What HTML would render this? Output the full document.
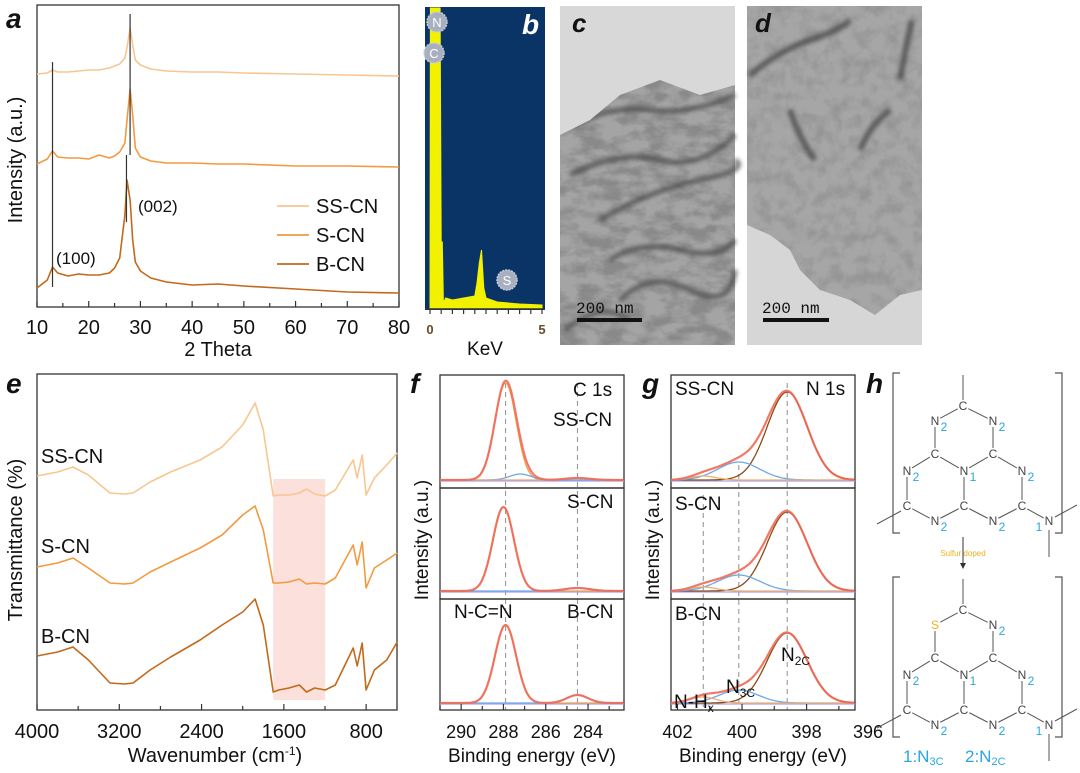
<!DOCTYPE html>
<html><head><meta charset="utf-8"><style>
html,body{margin:0;padding:0;background:#fff;}
svg{display:block;font-family:"Liberation Sans",sans-serif;}
.pl{font-family:"Liberation Sans",sans-serif;font-style:italic;font-weight:bold;font-size:28px;fill:#111;}
</style></head><body>
<svg id="fig" width="1080" height="773" viewBox="0 0 1080 773" xmlns="http://www.w3.org/2000/svg">
<defs>
<filter id="tex1" x="0" y="0" width="100%" height="100%"><feTurbulence type="fractalNoise" baseFrequency="0.045 0.08" numOctaves="4" seed="3"/><feColorMatrix type="matrix" values="0 0 0 0 0.25  0 0 0 0 0.25  0 0 0 0 0.25  0 0 0 -3 1.9"/></filter>
<filter id="tex2" x="0" y="0" width="100%" height="100%"><feTurbulence type="fractalNoise" baseFrequency="0.07" numOctaves="4" seed="8"/><feColorMatrix type="matrix" values="0 0 0 0 0.3  0 0 0 0 0.3  0 0 0 0 0.3  0 0 0 -2.6 1.55"/></filter>
<filter id="blur2"><feGaussianBlur stdDeviation="2"/></filter>
</defs>
<rect width="1080" height="773" fill="#fff"/>
<text class="pl" x="6" y="28">a</text>
<text class="pl" x="6" y="393">e</text>
<text class="pl" x="410" y="393">f</text>
<text class="pl" x="642" y="393">g</text>
<text class="pl" x="866" y="393">h</text>

<g>
<rect x="560" y="6" width="175" height="339" fill="#a4a4a4"/>
<rect x="560" y="6" width="175" height="339" filter="url(#tex1)"/>
<g filter="url(#blur2)" fill="none" stroke="#4a4a4a" stroke-width="5" opacity="0.75">
<path d="M575 125 Q610 105 650 110 T735 95"/>
<path d="M570 175 Q620 150 660 160 T735 135"/>
<path d="M600 220 Q650 190 700 180 T735 160"/>
<path d="M610 260 Q640 240 680 250 T735 240"/>
<path d="M620 300 Q650 270 690 290 T735 270"/>
<path d="M565 330 Q600 300 630 320"/>
</g>
<polygon points="560,6 735,6 735,85 700,95 660,80 620,95 590,120 560,135" fill="#d8d8d8"/>
<rect x="577" y="318" width="65" height="4" fill="#111"/>
<text x="576" y="313" font-family="Liberation Mono" font-size="16" fill="#111">200 nm</text>
<text class="pl" x="572" y="32" style="font-size:26px">c</text>
</g>
<g>
<rect x="747" y="6" width="175" height="339" fill="#a6a6a6"/>
<rect x="747" y="6" width="175" height="339" filter="url(#tex2)"/>
<g filter="url(#blur2)" fill="none" stroke="#3e3e3e" stroke-width="6" opacity="0.7">
<path d="M750 75 Q780 50 810 40 T850 20"/>
<path d="M912 20 Q905 50 900 80"/>
<path d="M790 110 Q800 140 815 160"/>
<path d="M860 150 Q870 125 890 110"/>
</g>
<polygon points="747,225 770,235 790,250 800,270 820,290 850,300 875,315 900,295 922,290 922,345 747,345" fill="#d6d6d6"/>
<rect x="763" y="318" width="66" height="4" fill="#111"/>
<text x="762" y="313" font-family="Liberation Mono" font-size="16" fill="#111">200 nm</text>
<text class="pl" x="755" y="32" style="font-size:26px">d</text>
</g>
</svg>
<script>
const NS='http://www.w3.org/2000/svg';
const svg=document.getElementById('fig');
function mk(tag,attrs,parent){const e=document.createElementNS(NS,tag);for(const k in attrs)e.setAttribute(k,attrs[k]);(parent||svg).appendChild(e);return e;}
function lin(d0,d1,r0,r1){return v=>r0+(v-d0)*(r1-r0)/(d1-d0);}
function txt(x,y,s,size,anchor,fill,parent){const t=mk('text',{x:x,y:y,'font-size':size,'text-anchor':anchor||'start',fill:fill||'#111'},parent);t.textContent=s;return t;}

/* ---------- DATA ---------- */
const xrdTheta=[10,12,13,14,16,18,20,22,24,25,26,27,27.5,28,28.5,29,30,32,35,40,45,50,60,70,80];
const xrdThetaB=[10,12,13,14,16,18,20,22,24,25,26,27,27.4,28,28.5,29,30,32,35,40,45,50,60,70,80];
const xrdSS=[233,234,237,235,235,236,237,237,239,241,243,249,262,279,262,247,242,238,236,235,235,234,233,232,231];
const xrdS=[143,148,156,150,149,149,148,152,149,151,155,164,192,218,192,159,150,146,144,144,143,143,141,141,140];
const xrdB=[19,27,40,34,31,33,32,32,34,39,49,92,127,107,67,45,36,29,25,22,23,21,18,15,14];
const xrdTicks=[10,20,30,40,50,60,70,80];
const xrdLegend=['SS-CN','S-CN','B-CN'];
const edxKeV=[0,0.02,0.1,0.2,0.3,0.4,0.45,0.5,0.55,0.6,0.7,1,1.5,2,2.1,2.2,2.3,2.4,2.5,3,4,5];
const edxCounts=[0,300,300,300,300,300,300,66,66,5,10,8,10,12,25,45,58,20,10,6,4,3];
const edxTicks=[0,5];
const irWave=[4000,3800,3650,3500,3290,3150,3066,2900,2700,2414,2200,2000,1880,1800,1704,1650,1550,1450,1380,1300,1198,1100,926,887,838,800,720,600,498];
const irSS=[244,248,253,245,227,226,227,238,248,260,273,295,317,290,224,225,225,227,231,226,224,230,260,242,265,225,242,255,267];
const irS=[153,157,162,152,137,136,137,148,158,172,185,205,214,190,137,137,138,141,136,137,136,142,175,155,178,132,152,160,167];
const irB=[64,68,73,60,37,36,37,50,63,80,95,108,121,95,28,30,32,35,28,32,30,35,72,54,77,30,50,60,78];
const irTicks=[4000,3200,2400,1600,800];
const irBand=[1704,1198];
const c1sSS=[[287.9,97,0.5],[287.2,6,0.5],[284.5,2,0.6]];
const c1sS=[[288.0,84,0.5],[284.5,3,0.6]];
const c1sB=[[287.9,78,0.5],[284.5,8,0.5]];
const c1sTicks=[290,288,286,284];
const n1sSS=[[398.6,88,0.62],[400.1,18,0.65],[401.2,4,0.4]];
const n1sS=[[398.6,79,0.62],[400.1,16,0.65],[401.2,4,0.4]];
const n1sB=[[398.6,70,0.62],[400.1,13,0.6],[401.2,6,0.4]];
const n1sTicks=[402,400,398,396];

const colSS='#f8c690', colS='#f39a40', colB='#c3691a';

function pathFrom(xs,ys,fx,fy){return xs.map((x,i)=>(i?'L':'M')+fx(x).toFixed(1)+','+fy(ys[i]).toFixed(1)).join(' ');}
function frame(x0,y0,x1,y1,name){const r=mk('rect',{x:x0,y:y0,width:x1-x0,height:y1-y0,fill:'none',stroke:'#333','stroke-width':1.3});

return r;}
function xticks(vals,minorStep,fx,yb,labY,size,name,lo,hi,labelX){
  const g=mk('g',{});
  
  
  for(let v=lo;v<=hi+1e-9;v+=minorStep){const major=vals.some(m=>Math.abs(m-v)<1e-6);mk('line',{x1:fx(v),x2:fx(v),y1:yb,y2:yb-(major?6:4),stroke:'#333','stroke-width':1.2},g);}
  vals.forEach(v=>{const t=txt(labelX?labelX(v):fx(v),labY,String(v),size,'middle','#111',g);
  
  });
}
function gauss(x,p){return p[1]*Math.exp(-0.5*Math.pow((x-p[0])/p[2],2));}

/* panel a */
const xa=lin(10,80,37,399), ya=lin(0,300,307,7);
frame(37,5,399,307,'xrd-plot-frame');
[[xrdTheta,xrdSS,colSS,'xrd-line-ss-cn'],[xrdTheta,xrdS,colS,'xrd-line-s-cn'],[xrdThetaB,xrdB,colB,'xrd-line-b-cn']].forEach(s=>{
  const p=mk('path',{d:pathFrom(s[0],s[1],xa,ya),fill:'none',stroke:s[2],'stroke-width':1.6,'stroke-linejoin':'round'});
  
  
});
[[13,62,287],[28,14,155],[27.3,155,222]].forEach(r=>{const l=mk('line',{x1:xa(r[0]),x2:xa(r[0]),y1:r[1],y2:r[2],stroke:'#333','stroke-width':1.2});

});
xticks(xrdTicks,5,xa,307,334,20,'xrd-x-ticks',10,80);
let t=txt(218,356,'2 Theta',20,'middle');


t=txt(0,0,'Intensity (a.u.)',20,'middle');t.setAttribute('transform','translate(22,160) rotate(-90)');


t=txt(138,212,'(002)',17,'start');


t=txt(56,264,'(100)',17,'start');


[colSS,colS,colB].forEach((c,i)=>{const y=206+i*29;
  const g=mk('g',{});
  
  
  mk('line',{x1:277,x2:309,y1:y,y2:y,stroke:c,'stroke-width':1.8},g);
  txt(316,y+7,xrdLegend[i],20,'start','#111',g);});

/* panel b */
const xb=lin(0,5,430,542), yb=lin(0,300,308,8);
let r=mk('rect',{x:425,y:7,width:120,height:303,fill:'#0b3466'});


let poly=mk('path',{d:pathFrom(edxKeV,edxCounts,xb,yb)+' L'+xb(5)+','+yb(0)+' L'+xb(0)+','+yb(0)+' Z',fill:'#f2f200',stroke:'#f2f200','stroke-width':1});


let ax=mk('line',{x1:425,x2:545,y1:309,y2:309,stroke:'#333','stroke-width':1.5});


for(let v=0;v<=5.001;v+=0.5){const l=mk('line',{x1:xb(v),x2:xb(v),y1:309,y2:314,stroke:'#333','stroke-width':1.2});

}
edxTicks.forEach(v=>{const tt=txt(xb(v),334,String(v),13,'middle','#6b4a2a');tt.setAttribute('font-weight','bold');

});
t=txt(485,355,'KeV',19,'middle');


[['N',437,22],['C',434,53],['S',507,280]].forEach(m=>{const g=mk('g',{});
  
  
  mk('circle',{cx:m[1],cy:m[2],r:10,fill:'#a8b0c0',stroke:'#c8ccd8','stroke-width':1.5,'stroke-dasharray':'2 1'},g);
  txt(m[1],m[2]+5,m[0],13,'middle','#fff',g);});
t=txt(522,34,'b',28,'start','#fff');t.setAttribute('font-style','italic');t.setAttribute('font-weight','bold');



/* panel e */
const xe=lin(4000,500,37,397), ye=lin(0,300,720,420);
r=mk('rect',{x:xe(irBand[0]),y:479,width:xe(irBand[1])-xe(irBand[0]),height:221,fill:'#fbe0dc'});


frame(37,374,397,710,'ftir-plot-frame');
[[irSS,colSS,'ftir-line-ss-cn'],[irS,colS,'ftir-line-s-cn'],[irB,colB,'ftir-line-b-cn']].forEach(s=>{
  const p=mk('path',{d:pathFrom(irWave,s[0],xe,ye),fill:'none',stroke:s[1],'stroke-width':1.6,'stroke-linejoin':'round'});
  
  
});
xticks(irTicks,400,xe,710,738,20,'ftir-x-ticks',800,4000);
t=txt(215,762,'Wavenumber (cm',20,'middle');const sup=mk('tspan',{'baseline-shift':'super','font-size':12},t);sup.textContent='-1';const cl=mk('tspan',{},t);cl.textContent=')';


t=txt(0,0,'Transmittance (%)',20,'middle');t.setAttribute('transform','translate(22,540) rotate(-90)');


[['SS-CN',463],['S-CN',553],['B-CN',643]].forEach(l=>{const tt=txt(41,l[1],l[0],20,'start');

});

/* XPS */
function xpsPanel(fx,x0,x1,lo,hi,sets,bases,tops,colorsFor,namePrefix){
  sets.forEach((peaks,k)=>{
    const base=bases[k];
    frame(x0,tops[k],x1,tops[k+1],namePrefix+'-frame-'+k);
    const xs=[];for(let v=hi;v>=lo-1e-9;v-=0.04)xs.push(v);
    const bl=mk('line',{x1:x0,x2:x1,y1:base+1,y2:base+1,stroke:'#a9a3f0','stroke-width':1.3});
    
    
    peaks.forEach((p,j)=>{const ys=xs.map(x=>base-gauss(x,p));
      const pa=mk('path',{d:xs.map((x,i)=>(i?'L':'M')+fx(x).toFixed(1)+','+ys[i].toFixed(1)).join(' '),fill:'none',stroke:colorsFor[j],'stroke-width':1.3});
      
      });
    const tot=xs.map(x=>base-peaks.reduce((s,p)=>s+gauss(x,p),0));
    const pt=mk('path',{d:xs.map((x,i)=>(i?'L':'M')+fx(x).toFixed(1)+','+tot[i].toFixed(1)).join(' '),fill:'none',stroke:'#f06a58','stroke-width':2.2,'stroke-opacity':0.9});
    
    
  });
}
const tops=[375,488,599,710];
const xf=lin(291,282.3,440,624);
[287.9,284.5].forEach(v=>{const l=mk('line',{x1:xf(v),x2:xf(v),y1:tops[0]+8,y2:710,stroke:'#999','stroke-width':1.1,'stroke-dasharray':'5 4'});

});
xpsPanel(xf,440,624,282.3,291,[c1sSS,c1sS,c1sB],[480,591,703],tops,['#eea04c','#6aaae8','#f0a870'],'c1s');
xticks(c1sTicks,1,xf,710,738,18,'c1s-x-ticks',283,291);
t=txt(532,762,'Binding energy (eV)',19,'middle');


t=txt(0,0,'Intensity (a.u.)',19,'middle');t.setAttribute('transform','translate(428,540) rotate(-90)');


[['C 1s',573,396],['SS-CN',553,426],['S-CN',567,508],['B-CN',567,618],['N-C=N',454,618]].forEach(l=>{const tt=txt(l[1],l[2],l[0],19,'start');

});

const xg=lin(402.2,396.5,671,855);
[[398.6,383],[400.1,465],[401.2,495]].forEach(v=>{const l=mk('line',{x1:xg(v[0]),x2:xg(v[0]),y1:v[1],y2:710,stroke:'#999','stroke-width':1.1,'stroke-dasharray':'5 4'});

});
xpsPanel(xg,671,855,396.5,402.2,[n1sSS,n1sS,n1sB],[480,591,703],tops,['#8a4a12','#6aaae8','#f0b070'],'n1s');
xticks(n1sTicks,1,xg,710,738,18,'n1s-x-ticks',397,402,v=>v===396?868:xg(v));
t=txt(763,762,'Binding energy (eV)',19,'middle');


t=txt(0,0,'Intensity (a.u.)',19,'middle');t.setAttribute('transform','translate(659,540) rotate(-90)');


[['SS-CN',675,395],['N 1s',806,395],['S-CN',675,510],['B-CN',675,620]].forEach(l=>{const tt=txt(l[1],l[2],l[0],19,'start');

});
[['N','2C',781,661],['N','3C',726,693],['N-H','x',674,708]].forEach(l=>{const tt=txt(l[2],l[3],l[0],19,'start');const s=mk('tspan',{'font-size':12,dy:4},tt);s.textContent=l[1];

});

/* panel h */
const atoms=[['C',963,410,''],['N',935,425,'2'],['N',993,425,'2'],['C',935,458,''],['C',993,458,''],['N',964,475,'1'],['N',907,475,'2'],['N',1022,475,'2'],['C',907,510,''],['C',964,510,''],['C',1022,510,''],['N',935,525,'2'],['N',993,525,'2'],['N',1049,525,'1']];
const bonds=[[0,1],[0,2],[1,3],[2,4],[3,5],[4,5],[3,6],[4,7],[6,8],[7,10],[5,9],[8,11],[9,11],[9,12],[10,12],[10,13]];
function structure(dy,sulfur,name){
  const g=mk('g',{});
  
  
  bonds.forEach(b=>{const a=atoms[b[0]],c=atoms[b[1]];const x1=a[1],y1=a[2]-4+dy,x2=c[1],y2=c[2]-4+dy;const L=Math.hypot(x2-x1,y2-y1),s=6/L;
    mk('line',{x1:x1+(x2-x1)*s,y1:y1+(y2-y1)*s,x2:x2-(x2-x1)*s,y2:y2-(y2-y1)*s,stroke:'#555','stroke-width':1},g);});
  mk('line',{x1:963,x2:963,y1:375+dy,y2:400+dy,stroke:'#555','stroke-width':1},g);
  mk('line',{x1:877,x2:901,y1:524+dy,y2:511+dy,stroke:'#555','stroke-width':1},g);
  mk('line',{x1:1055,x2:1077,y1:517+dy,y2:505+dy,stroke:'#555','stroke-width':1},g);
  mk('line',{x1:1049,x2:1049,y1:530+dy,y2:557+dy,stroke:'#555','stroke-width':1},g);
  mk('path',{d:`M900 ${373+dy} H893 V${533+dy} H900`,fill:'none',stroke:'#555','stroke-width':1.2},g);
  mk('path',{d:`M1055 ${373+dy} H1062 V${533+dy} H1055`,fill:'none',stroke:'#555','stroke-width':1.2},g);
  atoms.forEach((a,i)=>{const isS=sulfur&&i===1;
    txt(a[1],a[2]+dy,isS?'S':a[0],12,'middle',isS?'#f0b020':'#444',g);
    if(a[3]&&!isS){const sx=i===13?a[1]-10:a[1]+9;txt(sx,a[2]+dy+6,a[3],12,'middle','#2aa6e0',g);}});
}
structure(0,false,'structure-pristine');
structure(204,true,'structure-sulfur-doped');
let ar=mk('line',{x1:963,x2:963,y1:537,y2:566,stroke:'#333','stroke-width':1});


ar=mk('path',{d:'M960 563 L963 569 L966 563 Z',fill:'#333'});


t=txt(963,556,'Sulfur doped',8,'middle','#f0b020');


t=txt(903,762,'1:N',17,'start','#2aa6e0');let ts=mk('tspan',{'font-size':11,dy:3},t);ts.textContent='3C';


t=txt(965,762,'2:N',17,'start','#2aa6e0');ts=mk('tspan',{'font-size':11,dy:3},t);ts.textContent='2C';


</script>
</body></html>
